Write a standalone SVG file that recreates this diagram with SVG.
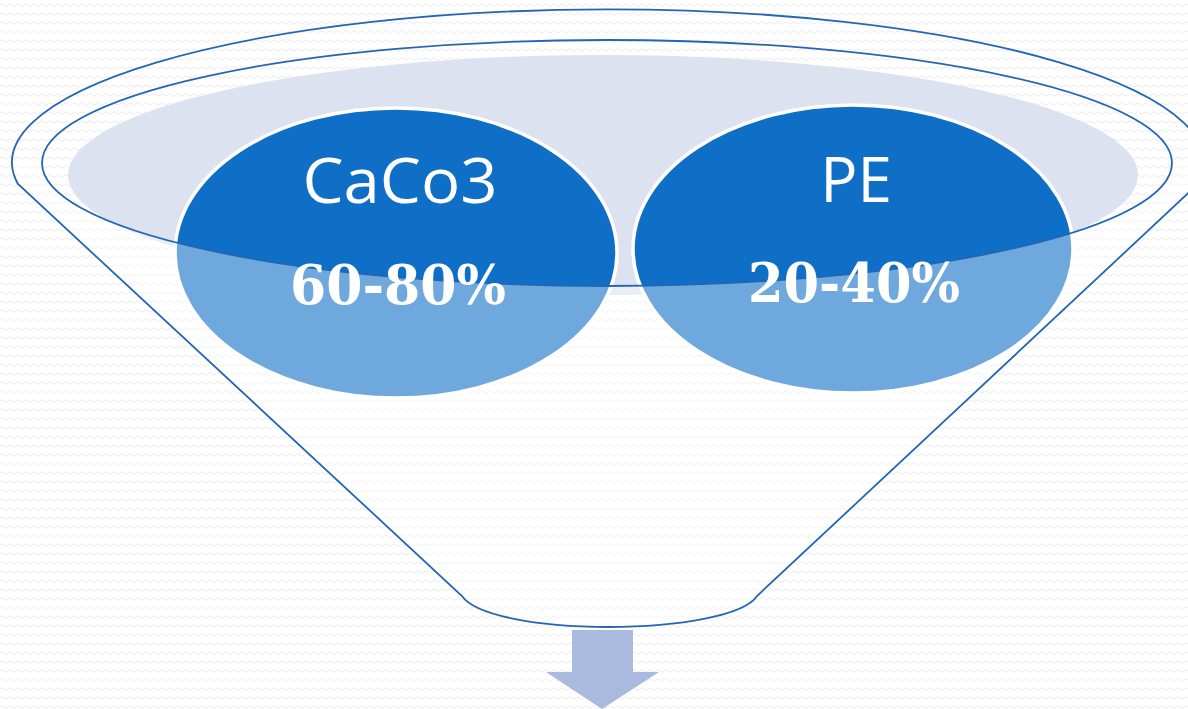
<svg xmlns="http://www.w3.org/2000/svg" width="1188" height="709" viewBox="0 0 1188 709">
<defs>
<pattern id="tex" width="8" height="9" patternUnits="userSpaceOnUse">
<rect width="8" height="9" fill="#ffffff"/>
<path d="M0,5 q2,-2.5 4,0 t4,0" fill="none" stroke="#e9e9ec" stroke-width="0.9"/>
</pattern>
<clipPath id="below"><rect x="0" y="163" width="1188" height="546"/></clipPath>
<style>
.line{fill:none;stroke:#2366b3;stroke-width:1.8}
.blob{fill:#0f6ec6;stroke:#ffffff;stroke-width:3.5}
.t1{font-family:"Open Sans","Noto Sans",sans-serif;font-size:62px;fill:#ffffff;text-anchor:middle}
.t2{font-family:"DejaVu Serif","Liberation Serif",serif;font-weight:bold;font-size:55px;fill:#ffffff;text-anchor:middle}
</style>
</defs>
<rect width="1188" height="709" fill="url(#tex)"/>
<g id="backdrop">
<ellipse cx="603" cy="175" rx="535" ry="120" fill="#dde2f0"/>
</g>
<g id="node-caco3">
<ellipse cx="396" cy="253" rx="221" ry="145" class="blob"/>
</g>
<g id="node-pe">
<ellipse cx="853" cy="249" rx="220" ry="144" class="blob"/>
</g>
<g id="funnel">
<path d="M18,184 A596,153 0 1,1 1198,184 L757,596 C745,615 680,627 608,627 C536,627 475,615 462,596 Z M42,163 A565,123 0 1,0 1172,163 A565,123 0 1,0 42,163 Z" fill="#ffffff" fill-opacity="0.4" fill-rule="evenodd" clip-path="url(#below)"/>
<ellipse cx="607" cy="163" rx="565" ry="123" class="line"/>
<path d="M18,184 A596,153 0 1,1 1198,184 L757,596 C745,615 680,627 608,627 C536,627 475,615 462,596 Z" class="line"/>
</g>
<g id="labels">
<text x="400" y="203" class="t1" textLength="195" lengthAdjust="spacingAndGlyphs">CaCo3</text>
<text x="398" y="304" class="t2" textLength="216" lengthAdjust="spacingAndGlyphs">60-80%</text>
<text x="856" y="202" class="t1">PE</text>
<text x="854" y="302" class="t2" textLength="212" lengthAdjust="spacingAndGlyphs">20-40%</text>
</g>
<g id="connectors">
<path d="M572,630 H633 V672 H659 L602,709 L546,672 H572 Z" fill="#aab9de"/>
</g>
</svg>
